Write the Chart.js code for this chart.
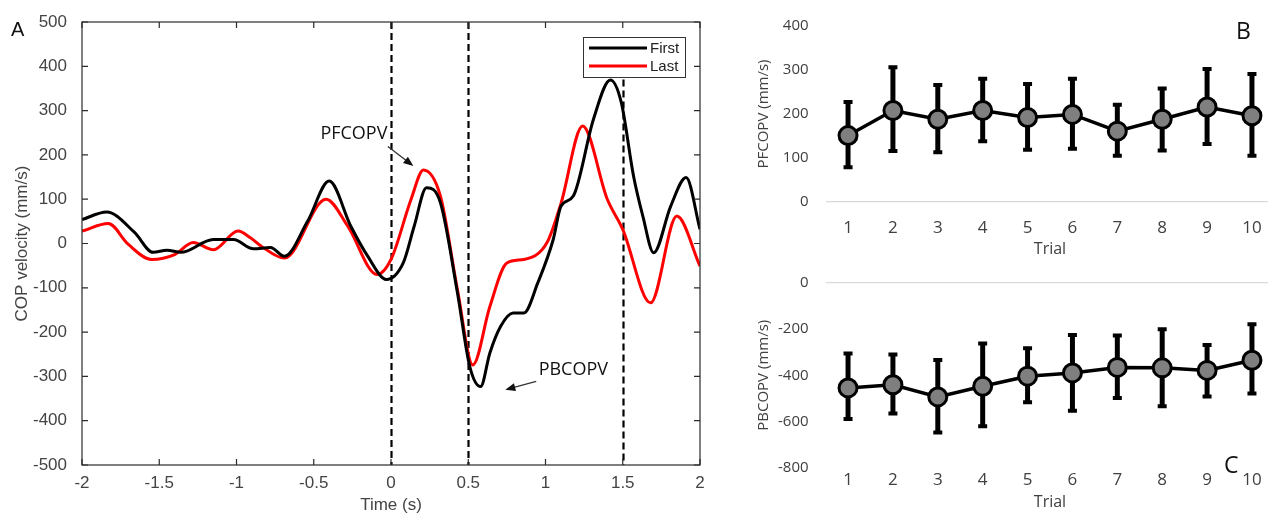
<!DOCTYPE html>
<html>
<head>
<meta charset="utf-8">
<script src="https://cdn.jsdelivr.net/npm/chart.js@4.4.1/dist/chart.umd.min.js"></script>
<style>
  html { margin: 0; padding: 0; width: 1268px; height: 514px; overflow: hidden; background: #fff; }
  body { margin: 0; padding: 0; background: #fff; width: 1320px; height: 514px; position: relative; }
  canvas { position: absolute; }
  #chartA { left: 0; top: 0; width: 740px; height: 514px; }
  #chartB { left: 740px; top: 0; width: 540px; height: 257px; }
  #chartC { left: 740px; top: 257px; width: 540px; height: 257px; }
  .tag { position: absolute; line-height: 1; color: #111; }
</style>
</head>
<body>
<canvas id="chartA" width="740" height="514"></canvas>
<canvas id="chartB" width="540" height="257"></canvas>
<canvas id="chartC" width="540" height="257"></canvas>
<div class="tag" style="left:11px;top:18px;font:20px 'Liberation Sans',Arial,sans-serif;">A</div>
<div class="tag" style="left:1236px;top:14px;font:23px 'Open Sans',sans-serif;">B</div>
<div class="tag" style="left:1224px;top:448px;font:23px 'Open Sans',sans-serif;">C</div>
<script>
// Panel A: COP velocity, first vs last trial (time in s, velocity in mm/s)
const firstT = [-2, -1.84, -1.66, -1.54, -1.45, -1.36, -1.15, -1.02, -0.89, -0.78, -0.69, -0.54, -0.40, -0.26, -0.15, -0.03,
                0.08, 0.15, 0.23, 0.32, 0.43, 0.51, 0.58, 0.64, 0.71, 0.79, 0.86, 0.95, 1.05, 1.10, 1.18, 1.31, 1.42,
                1.49, 1.57, 1.63, 1.70, 1.81, 1.91, 2.0];
const firstV = [54, 71, 25, -20, -15, -20, 9, 9, -12, -9, -29, 50, 141, 39, -29, -81,
                -43, 39, 126, 92, -111, -278, -323, -247, -187, -157, -157, -89, 9, 84, 107, 280, 369,
                319, 152, 62, -21, 84, 149, 32];
const lastT = [-2, -1.83, -1.70, -1.55, -1.40, -1.28, -1.15, -0.99, -0.91, -0.84, -0.69, -0.42, -0.28, -0.09, 0,
               0.13, 0.21, 0.32, 0.43, 0.53, 0.64, 0.75, 0.86, 1.01, 1.10, 1.24, 1.40, 1.50, 1.68, 1.85, 2.0];
const lastV = [28, 45, -2, -36, -25, 2, -14, 28, 13, -6, -33, 100, 39, -70, -36,
               100, 166, 107, -104, -274, -142, -44, -36, 2, 90, 265, 100, 32, -134, 62, -51];
// dashed event markers: time and the value where each line starts at the top
const eventTimes = [0, 0.5, 1.5];
const eventTops = [500, 500, 370];

// Panels B and C: mean and error bar ends per trial (mm/s)
const trials = ['1', '2', '3', '4', '5', '6', '7', '8', '9', '10'];
const pfMean  = [151, 208, 188, 208, 192, 199, 161, 188, 216, 196];
const pfUpper = [227, 306, 266, 280, 268, 280, 221, 258, 302, 291];
const pfLower = [79, 116, 113, 138, 119, 121, 105, 117, 132, 105];
const pbMean  = [-455, -441, -494, -448, -404, -390, -366, -368, -379, -335];
const pbUpper = [-306, -310, -334, -262, -283, -225, -228, -200, -269, -179];
const pbLower = [-590, -566, -648, -621, -517, -554, -499, -534, -492, -479];

// annotations in data units of panel A
const notes = [
  { text: 'PFCOPV', x: -0.24, y: 247, from: [-0.02, 219], to: [0.145, 175] },
  { text: 'PBCOPV', x: 1.18, y: -285, from: [0.94, -311], to: [0.74, -330] }
];

const sansA = "'Liberation Sans', Arial, sans-serif";
const sansB = "'Open Sans', sans-serif";

function pts(ts, vs) { return ts.map((t, i) => ({ x: t, y: vs[i] })); }

// MATLAB-like box with inward ticks, dashed event lines, legend and notes
const panelA = {
  id: 'panelA',
  beforeDatasetsDraw(chart) {
    const { ctx, chartArea: a, scales: { x, y } } = chart;
    ctx.save();
    ctx.strokeStyle = '#000';
    ctx.lineWidth = 2.2;
    ctx.setLineDash([7, 4]);
    eventTimes.forEach((t, i) => {
      const px = Math.round(x.getPixelForValue(t)) + 0.5;
      ctx.beginPath(); ctx.moveTo(px, y.getPixelForValue(eventTops[i])); ctx.lineTo(px, a.bottom); ctx.stroke();
    });
    ctx.restore();
  },
  afterDatasetsDraw(chart) {
    const { ctx, chartArea: a, scales: { x, y } } = chart;
    ctx.save();
    ctx.strokeStyle = '#2b2b2b';
    ctx.lineWidth = 1.2;
    ctx.strokeRect(a.left, a.top, a.right - a.left, a.bottom - a.top);
    ctx.beginPath();
    x.ticks.forEach(t => {
      const p = x.getPixelForValue(t.value);
      ctx.moveTo(p, a.bottom); ctx.lineTo(p, a.bottom - 6);
      ctx.moveTo(p, a.top); ctx.lineTo(p, a.top + 6);
    });
    y.ticks.forEach(t => {
      const p = y.getPixelForValue(t.value);
      ctx.moveTo(a.left, p); ctx.lineTo(a.left + 6, p);
      ctx.moveTo(a.right, p); ctx.lineTo(a.right - 6, p);
    });
    ctx.stroke();

    // legend box
    const bx = a.right - 117, by = a.top + 15, bw = 102, bh = 40;
    ctx.fillStyle = '#fff';
    ctx.fillRect(bx, by, bw, bh);
    ctx.strokeStyle = '#333';
    ctx.lineWidth = 1;
    ctx.strokeRect(bx + 0.5, by + 0.5, bw, bh);
    ctx.font = '15px ' + sansA;
    ctx.textBaseline = 'middle';
    chart.data.datasets.forEach((ds, i) => {
      const ly = by + 11 + i * 18;
      ctx.strokeStyle = ds.borderColor;
      ctx.lineWidth = 3;
      ctx.beginPath(); ctx.moveTo(bx + 6, ly); ctx.lineTo(bx + 64, ly); ctx.stroke();
      ctx.fillStyle = '#222';
      ctx.fillText(ds.label, bx + 67, ly + 1);
    });

    // annotations
    ctx.font = '18px ' + sansB;
    ctx.textAlign = 'center';
    notes.forEach(n => {
      ctx.fillStyle = '#111';
      ctx.fillText(n.text, x.getPixelForValue(n.x), y.getPixelForValue(n.y));
      const x0 = x.getPixelForValue(n.from[0]), y0 = y.getPixelForValue(n.from[1]);
      const x1 = x.getPixelForValue(n.to[0]), y1 = y.getPixelForValue(n.to[1]);
      const ang = Math.atan2(y1 - y0, x1 - x0);
      ctx.strokeStyle = '#333';
      ctx.lineWidth = 1.3;
      ctx.beginPath(); ctx.moveTo(x0, y0); ctx.lineTo(x1 - 7 * Math.cos(ang), y1 - 7 * Math.sin(ang)); ctx.stroke();
      ctx.fillStyle = '#111';
      ctx.beginPath();
      ctx.moveTo(x1, y1);
      ctx.lineTo(x1 - 10 * Math.cos(ang) + 4 * Math.sin(ang), y1 - 10 * Math.sin(ang) - 4 * Math.cos(ang));
      ctx.lineTo(x1 - 10 * Math.cos(ang) - 4 * Math.sin(ang), y1 - 10 * Math.sin(ang) + 4 * Math.cos(ang));
      ctx.closePath(); ctx.fill();
    });
    ctx.restore();
  }
};

new Chart(document.getElementById('chartA'), {
  type: 'line',
  data: {
    datasets: [
      { label: 'First', data: pts(firstT, firstV), borderColor: '#000', borderWidth: 3,
        pointRadius: 0, cubicInterpolationMode: 'monotone' },
      { label: 'Last', data: pts(lastT, lastV), borderColor: '#f00', borderWidth: 3,
        pointRadius: 0, cubicInterpolationMode: 'monotone' }
    ]
  },
  options: {
    responsive: false,
    devicePixelRatio: 1,
    animation: false,
    layout: { padding: { left: 0, right: 40, top: 22, bottom: 0 } },
    plugins: { legend: { display: false }, tooltip: { enabled: false } },
    scales: {
      x: {
        type: 'linear', min: -2, max: 2,
        ticks: { stepSize: 0.5, padding: 0, color: '#444', font: { family: sansA, size: 17 }, maxRotation: 0,
                 callback: v => String(v) },
        grid: { display: false }, border: { display: false },
        title: { display: true, text: 'Time (s)', color: '#444', padding: 0,
                 font: { family: sansA, size: 17, lineHeight: 1 } },
        afterFit(s) { s.height = 49; }
      },
      y: {
        min: -500, max: 500,
        ticks: { stepSize: 100, padding: 7, color: '#444', font: { family: sansA, size: 17 } },
        grid: { display: false }, border: { display: false },
        title: { display: true, text: 'COP velocity (mm/s)', color: '#444', padding: { top: 14, bottom: 0 },
                 font: { family: sansA, size: 17, lineHeight: 1 } },
        afterFit(s) { s.width = 82; }
      }
    }
  },
  plugins: [panelA]
});

// error bars drawn under the line and markers
const errorBars = {
  id: 'errorBars',
  beforeDatasetsDraw(chart) {
    const { ctx, scales: { x, y } } = chart;
    const ds = chart.data.datasets[0];
    ctx.save();
    ctx.strokeStyle = '#000';
    ds.errUpper.forEach((hi, i) => {
      const px = x.getPixelForValue(i);
      const yh = y.getPixelForValue(hi), yl = y.getPixelForValue(ds.errLower[i]);
      ctx.lineWidth = 5;
      ctx.beginPath(); ctx.moveTo(px, yh); ctx.lineTo(px, yl); ctx.stroke();
      ctx.lineWidth = 4;
      ctx.beginPath();
      ctx.moveTo(px - 4.5, yh); ctx.lineTo(px + 4.5, yh);
      ctx.moveTo(px - 4.5, yl); ctx.lineTo(px + 4.5, yl);
      ctx.stroke();
    });
    ctx.restore();
  }
};

function trialChart(id, mean, upper, lower, yMin, yMax, step, yTitle, xPad, titlePad, bottomSpace) {
  return new Chart(document.getElementById(id), {
    type: 'line',
    data: {
      labels: trials,
      datasets: [{
        data: mean, errUpper: upper, errLower: lower,
        borderColor: '#000', borderWidth: 3.5,
        pointRadius: 9, pointBorderWidth: 3,
        pointBackgroundColor: '#7f7f7f', pointBorderColor: '#000'
      }]
    },
    options: {
      responsive: false,
      devicePixelRatio: 1,
      animation: false,
      layout: { autoPadding: false, padding: { left: 0, right: 5.6, top: 18, bottom: 0 } },
      plugins: { legend: { display: false }, tooltip: { enabled: false } },
      scales: {
        x: {
          type: 'category', offset: true,
          ticks: { padding: xPad, color: '#404040', font: { family: sansB, size: 17, lineHeight: 1 }, maxRotation: 0 },
          grid: { display: false }, border: { display: false },
          title: { display: true, text: 'Trial', color: '#404040', padding: { top: 0, bottom: titlePad },
                   font: { family: sansB, size: 16, lineHeight: 1 } },
          afterFit(s) { s.height = bottomSpace; }
        },
        y: {
          min: yMin, max: yMax,
          ticks: { stepSize: step, padding: 17, color: '#404040', font: { family: sansB, size: 15 } },
          grid: { drawTicks: false, lineWidth: 1.3,
                  color: c => (c.tick && c.tick.value === 0) ? '#d9d9d9' : 'rgba(0,0,0,0)' },
          border: { display: false },
          title: { display: true, text: yTitle, color: '#404040', padding: { top: 16, bottom: 0 },
                   font: { family: sansB, size: 15, lineHeight: 1 } },
          afterFit(s) { s.width = 85.6; }
        }
      }
    },
    plugins: [errorBars]
  });
}

trialChart('chartB', pfMean, pfUpper, pfLower, 0, 400, 100, 'PFCOPV (mm/s)', 10, 0, 55);
trialChart('chartC', pbMean, pbUpper, pbLower, -800, 0, 200, 'PBCOPV (mm/s)', -4, 4, 46.5);
</script>
</body>
</html>
